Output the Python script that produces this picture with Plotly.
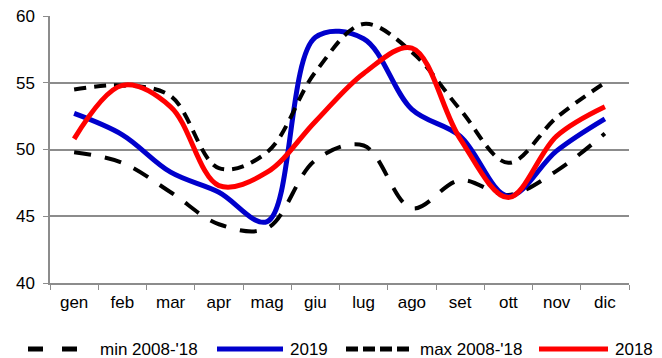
import plotly.graph_objects as go

months = ["gen", "feb", "mar", "apr", "mag", "giu", "lug", "ago", "set", "ott", "nov", "dic"]
min_0818 = [49.8, 49.0, 46.8, 44.4, 44.1, 49.2, 50.3, 45.6, 47.7, 46.6, 48.4, 51.2]
y2019 = [52.7, 51.1, 48.3, 46.8, 44.6, 58.4, 58.3, 53.0, 51.0, 46.5, 49.9, 52.3]
max_0818 = [54.5, 54.8, 54.0, 48.6, 49.8, 55.8, 59.4, 57.3, 53.0, 49.0, 52.4, 55.0]
y2018 = [50.8, 54.8, 53.2, 47.3, 48.3, 52.1, 55.7, 57.6, 50.8, 46.4, 51.0, 53.2]

# plot area in pixels
L, R, T, B = 50, 629, 16, 283
W, H = 662, 358


def px_x(p):
    return (p - L) / (R - L)


def px_y(p):
    return (B - p) / (B - T)


series = [
    ("min 2008-'18", min_0818, "black", 4, "17px,14px"),
    ("2019", y2019, "#0000cc", 5, "solid"),
    ("max 2008-'18", max_0818, "black", 4, "12px,8px"),
    ("2018", y2018, "#ff0000", 5, "solid"),
]

fig = go.Figure()
for name, vals, color, w, dash in series:
    fig.add_trace(go.Scatter(x=months, y=vals, name=name, mode="lines",
                             line=dict(color=color, width=w, dash=dash, shape="spline", smoothing=1)))

# legend drawn by hand: (line start, line end, text start) in px
leg = [(28, 78, 98, "15px,19px", 5), (217, 283, 288, "solid", 5),
       (346, 411, 418, "12px,5px", 5), (539, 608, 613, "solid", 5)]
ly = px_y(349)
shapes, annots = [], []
for (x0, x1, xt, dash, w), (name, _, color, _, _) in zip(leg, series):
    shapes.append(dict(type="line", xref="paper", yref="paper", x0=px_x(x0), x1=px_x(x1),
                       y0=ly, y1=ly, line=dict(color=color, width=w, dash=dash)))
    annots.append(dict(text=name, xref="paper", yref="paper", x=px_x(xt), y=ly,
                       xanchor="left", yanchor="middle", showarrow=False,
                       font=dict(size=17, color="black")))

fig.update_layout(
    width=W, height=H,
    margin=dict(l=L, r=W - R, t=T, b=H - B, autoexpand=False),
    paper_bgcolor="white", plot_bgcolor="white",
    font=dict(family="Liberation Sans, Arial, sans-serif", size=17, color="black"),
    showlegend=False,
    shapes=shapes, annotations=annots,
)
fig.update_xaxes(showline=True, linecolor="#8c8c8c", linewidth=1.5, ticks="outside",
                 tickson="boundaries", ticklen=5, tickcolor="#8c8c8c", showgrid=False,
                 ticklabelstandoff=3, range=[-0.5, 11.5])
fig.update_yaxes(range=[40, 60], dtick=5, showline=True, linecolor="#8c8c8c", linewidth=1.5,
                 ticks="outside", ticklen=5, tickcolor="#8c8c8c", gridcolor="#8c8c8c",
                 gridwidth=1.5, zeroline=False, ticklabelstandoff=5)

# drop the default page margin so the figure fills the window
fig.write_html("out.html", config={"displayModeBar": False},
               post_script="document.body.style.margin='0';")
